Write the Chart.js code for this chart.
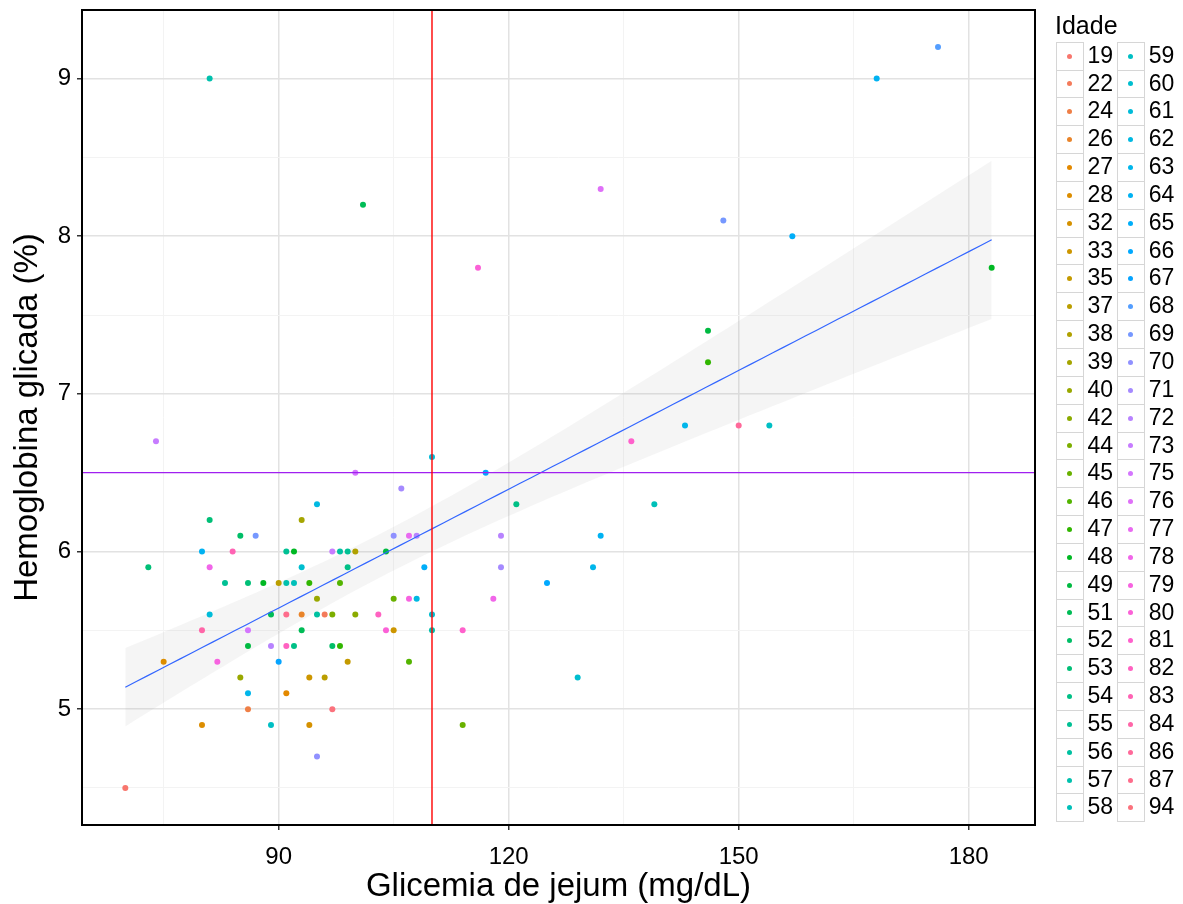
<!DOCTYPE html>
<html>
<head>
<meta charset="utf-8">
<script src="https://cdn.jsdelivr.net/npm/chart.js@4/dist/chart.umd.min.js"></script>
<style>
  html, body { margin: 0; padding: 0; background: #ffffff; }
  #wrap { position: relative; width: 1183px; height: 904px; overflow: hidden; font-family: "Liberation Sans", Arial, sans-serif; }
  #c { position: absolute; left: 0; top: 0; }
  #legend { position: absolute; left: 1046px; top: 0; width: 137px; height: 904px; }
  #legend .title { position: absolute; left: 9px; top: 10px; font-size: 25px; line-height: 30px; color: #000; }
  #legend .col { position: absolute; top: 41.7px; }
  #legend .row { position: relative; height: 27.85px; }
  #legend .key { position: absolute; left: 0; top: 0; width: 28px; height: 28.85px; box-sizing: border-box; border: 1px solid #d6d6d6; background: #fff; }
  #legend .dot { position: absolute; left: 50%; top: 50%; width: 5px; height: 5px; margin: -2.5px 0 0 -2.5px; border-radius: 50%; }
  #legend .lab { position: absolute; left: 32px; top: 0; height: 27.85px; line-height: 27.85px; font-size: 23px; color: #000; }
</style>
</head>
<body>
<div id="wrap">
  <canvas id="c" width="1183" height="904"></canvas>
  <div id="legend"></div>
</div>
<script>
// ---------- data ----------
const ages = [19,22,24,26,27,28,32,33,35,37,38,39,40,42,44,45,46,47,48,49,51,52,53,54,55,56,57,58,
              59,60,61,62,63,64,65,66,67,68,69,70,71,72,73,75,76,77,78,79,80,81,82,83,84,86,87,94];

const glicemia = [81,101,116,132,148,157,168,176,183,146,146,143,150,154,136,74,110,117,100,121,139,106,95,93,
                  105,107,108,91,92,97,98,99,100,104,93,99,109,90,91,92,94,98,95,105,107,108,91,93,95,96,97,100,
                  103,110,93,104,105,110,81,85,87,80,84,81,83,86,88,81,89,80,86,86,89,91,92,73,75,82,90,85,97,98,
                  99,94,96,86,91,86,97,80,89,94,95,70,119,132,119,131,125,118,114,107,129,114];

const hemoglobina = [9.0,8.2,7.8,8.3,8.1,8.0,9.0,9.2,7.8,7.4,7.2,6.8,6.8,6.8,6.7,6.7,6.6,6.5,6.5,6.3,6.3,6.4,6.3,6.2,
                     6.1,6.1,6.1,6.0,6.0,6.0,6.0,6.0,6.0,6.0,5.9,5.9,5.9,5.8,5.8,5.8,5.8,5.8,5.7,5.7,5.7,5.7,5.6,5.6,5.6,5.6,5.6,5.6,
                     5.6,5.6,5.5,5.5,5.5,5.5,6.2,6.1,6.1,6.0,6.0,5.9,5.8,5.8,5.8,5.6,5.6,5.5,5.5,5.4,5.4,5.4,5.4,5.9,5.3,5.3,5.3,5.2,5.4,5.4,
                     5.3,5.2,5.2,5.1,5.1,5.0,5.0,4.9,4.9,4.9,4.7,4.5,6.1,6.1,5.9,5.9,5.8,5.7,5.5,5.3,5.2,4.9];

const idade = [57,51,80,76,69,65,64,68,48,49,47,63,86,59,81,73,61,66,75,54,58,71,62,39,
               70,77,72,55,48,73,56,55,38,49,60,54,65,37,57,58,47,46,40,45,79,62,87,26,56,22,44,42,
               82,60,51,80,33,57,53,52,69,64,83,78,55,53,48,61,51,84,75,49,72,82,54,53,28,79,67,40,52,47,
               35,33,37,63,27,24,94,28,59,32,70,19,72,64,71,63,66,78,81,46,60,45];

const xMajor = [90, 120, 150, 180];
const xMinor = [75, 105, 135, 165];
const yMajor = [5, 6, 7, 8, 9];
const yMinor = [4.5, 5.5, 6.5, 7.5, 8.5];
const xLimits = [64.35, 188.65];
const yLimits = [4.265, 9.435];
const refGlicemia = 110;   // vertical reference line
const refHemoglobina = 6.5; // horizontal reference line

// ---------- ggplot-like hue palette (hcl, c=100, l=65) ----------
function hcl(h, c, l) {
  const XN = 95.047, YN = 100.0, ZN = 108.883;
  const hr = h * Math.PI / 180;
  const U = c * Math.cos(hr), V = c * Math.sin(hr);
  const Y = YN * (l > 7.999592 ? Math.pow((l + 16) / 116, 3) : l / 903.3);
  const t = XN + YN + ZN;
  const x = XN / t, y = YN / t;
  const uN = 2 * x / (6 * y - x + 1.5);
  const vN = 4.5 * y / (6 * y - x + 1.5);
  const u = U / (13 * l) + uN, v = V / (13 * l) + vN;
  const X = 9.0 * Y * u / (4 * v);
  const Z = -X / 3 - 5 * Y + 3 * Y / v;
  const g = (q) => { q = q > 0.00304 ? 1.055 * Math.pow(q, 1 / 2.4) - 0.055 : 12.92 * q; return Math.round(255 * Math.min(1, Math.max(0, q))); };
  const R = g((3.240479 * X - 1.537150 * Y - 0.498535 * Z) / YN);
  const G = g((-0.969256 * X + 1.875992 * Y + 0.041556 * Z) / YN);
  const B = g((0.055648 * X - 0.204043 * Y + 1.057311 * Z) / YN);
  return 'rgb(' + R + ',' + G + ',' + B + ')';
}
const nA = ages.length;
const colors = ages.map((a, i) => hcl(15 + i * 360 / nA, 100, 65));

// ---------- linear fit with 95% CI (like geom_smooth(method = "lm")) ----------
const n = glicemia.length;
const mx = glicemia.reduce((s, v) => s + v, 0) / n;
const my = hemoglobina.reduce((s, v) => s + v, 0) / n;
let sxx = 0, sxy = 0;
for (let i = 0; i < n; i++) { sxx += (glicemia[i] - mx) ** 2; sxy += (glicemia[i] - mx) * (hemoglobina[i] - my); }
const slope = sxy / sxx, intercept = my - slope * mx;
let sse = 0;
for (let i = 0; i < n; i++) sse += (hemoglobina[i] - intercept - slope * glicemia[i]) ** 2;
const df = n - 2, s = Math.sqrt(sse / df);
const tq = 1.959964 + (1.959964 ** 3 + 1.959964) / (4 * df) + (5 * 1.959964 ** 5 + 16 * 1.959964 ** 3 + 3 * 1.959964) / (96 * df * df);
const xmin = Math.min(...glicemia), xmax = Math.max(...glicemia);
const fitLine = [], fitLo = [], fitHi = [];
for (let k = 0; k < 80; k++) {
  const xv = xmin + (xmax - xmin) * k / 79;
  const yv = intercept + slope * xv;
  const se = s * Math.sqrt(1 / n + (xv - mx) ** 2 / sxx);
  fitLine.push({x: xv, y: yv});
  fitLo.push({x: xv, y: yv - tq * se});
  fitHi.push({x: xv, y: yv + tq * se});
}

// ---------- datasets ----------
const pointSets = ages.map((a, i) => ({
  type: 'scatter',
  label: String(a),
  data: glicemia.map((g, k) => ({x: g, y: hemoglobina[k], a: idade[k]})).filter(p => p.a === a),
  backgroundColor: colors[i],
  borderWidth: 0,
  pointRadius: 3,
  order: 3
}));

const datasets = [
  { type: 'line', label: 'vline', data: [{x: refGlicemia, y: yLimits[0]}, {x: refGlicemia, y: yLimits[1]}],
    borderColor: '#ff0000', borderWidth: 1.4, pointRadius: 0, fill: false, order: 0 },
  { type: 'line', label: 'hline', data: [{x: xLimits[0], y: refHemoglobina}, {x: xLimits[1], y: refHemoglobina}],
    borderColor: '#a020f0', borderWidth: 1.4, pointRadius: 0, fill: false, order: 1 },
  { type: 'line', label: 'fit', data: fitLine, borderColor: '#3366ff', borderWidth: 1.2, pointRadius: 0, fill: false, order: 2 },
  { type: 'line', label: 'lo', data: fitLo, borderWidth: 0, borderColor: 'rgba(0,0,0,0)', pointRadius: 0, fill: false, order: 5 },
  { type: 'line', label: 'hi', data: fitHi, borderWidth: 0, borderColor: 'rgba(0,0,0,0)', pointRadius: 0,
    fill: '-1', backgroundColor: 'rgba(153,153,153,0.1)', order: 4 },
  ...pointSets
];

const FONT = '"Liberation Sans", Arial, sans-serif';

const panelBorder = {
  id: 'panelBorder',
  afterDraw(chart) {
    const {ctx, chartArea: a} = chart;
    ctx.save();
    ctx.strokeStyle = '#000';
    ctx.lineWidth = 2;
    ctx.strokeRect(a.left, a.top, a.right - a.left, a.bottom - a.top);
    ctx.restore();
  }
};

function setTicks(major, minor) {
  return (scale) => { scale.ticks = [...minor, ...major].sort((p, q) => p - q).map(v => ({value: v})); };
}

new Chart(document.getElementById('c'), {
  data: { datasets },
  options: {
    responsive: false,
    animation: false,
    devicePixelRatio: 1,
    layout: { padding: { left: 0, top: 10, right: 148, bottom: 0 } },
    plugins: { legend: { display: false }, tooltip: { enabled: false } },
    scales: {
      x: {
        type: 'linear', min: xLimits[0], max: xLimits[1],
        afterBuildTicks: setTicks(xMajor, xMinor),
        afterFit: (sc) => { sc.height = 79; },
        border: { display: false },
        grid: {
          color: (c) => xMajor.includes(c.tick && c.tick.value) ? '#e2e2e2' : '#f3f3f3',
          lineWidth: (c) => xMajor.includes(c.tick && c.tick.value) ? 1.5 : 1,
          tickColor: (c) => xMajor.includes(c.tick && c.tick.value) ? '#333333' : 'rgba(0,0,0,0)',
          tickLength: 5, tickWidth: 1.5
        },
        ticks: {
          autoSkip: false, maxRotation: 0, padding: 13, color: '#000',
          font: { family: FONT, size: 24 },
          callback: (v) => xMajor.includes(v) ? String(v) : ''
        },
        title: { display: true, text: 'Glicemia de jejum (mg/dL)', color: '#000',
                 font: { family: FONT, size: 33, lineHeight: 1.05 }, padding: { top: 0, bottom: 0 } }
      },
      y: {
        type: 'linear', min: yLimits[0], max: yLimits[1],
        afterBuildTicks: setTicks(yMajor, yMinor),
        afterFit: (sc) => { sc.width = 82; },
        border: { display: false },
        grid: {
          color: (c) => yMajor.includes(c.tick && c.tick.value) ? '#e2e2e2' : '#f3f3f3',
          lineWidth: (c) => yMajor.includes(c.tick && c.tick.value) ? 1.5 : 1,
          tickColor: (c) => yMajor.includes(c.tick && c.tick.value) ? '#333333' : 'rgba(0,0,0,0)',
          tickLength: 5, tickWidth: 1.5
        },
        ticks: {
          autoSkip: false, padding: 6, color: '#000',
          font: { family: FONT, size: 24, lineHeight: 0.3 },
          callback: (v) => yMajor.includes(v) ? String(v) : ''
        },
        title: { display: true, text: 'Hemoglobina glicada (%)', color: '#000',
                 font: { family: FONT, size: 33 }, padding: { top: 8, bottom: 0 } }
      }
    }
  },
  plugins: [panelBorder]
});

// ---------- legend (HTML) ----------
const leg = document.getElementById('legend');
const t = document.createElement('div');
t.className = 'title'; t.textContent = 'Idade';
leg.appendChild(t);
const perCol = Math.ceil(nA / 2);
[0, 1].forEach(ci => {
  const col = document.createElement('div');
  col.className = 'col';
  col.style.left = (ci === 0 ? 9.5 : 70.8) + 'px';
  ages.slice(ci * perCol, (ci + 1) * perCol).forEach((a, j) => {
    const idx = ci * perCol + j;
    const row = document.createElement('div'); row.className = 'row';
    const key = document.createElement('div'); key.className = 'key';
    const dot = document.createElement('div'); dot.className = 'dot'; dot.style.background = colors[idx];
    key.appendChild(dot);
    const lab = document.createElement('div'); lab.className = 'lab'; lab.textContent = a;
    row.appendChild(key); row.appendChild(lab);
    col.appendChild(row);
  });
  leg.appendChild(col);
});
</script>
</body>
</html>
